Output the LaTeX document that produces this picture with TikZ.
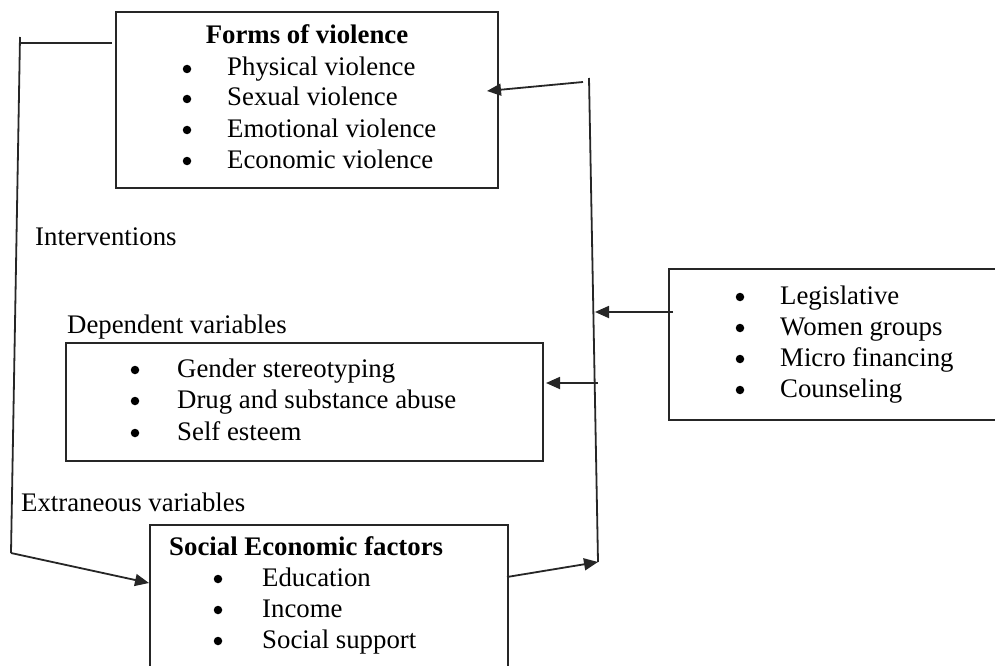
\documentclass[tikz,border=0pt]{standalone}
\usepackage{fontspec}
\setmainfont{Liberation Serif}
\usetikzlibrary{arrows.meta}
\begin{document}
\begin{tikzpicture}[x=1pt,y=-1pt,
  txt/.style={inner sep=0pt, anchor=base west, font=\fontsize{26.8}{30}\selectfont},
  ttl/.style={inner sep=0pt, anchor=base west, font=\fontsize{26.8}{30}\selectfont\bfseries},
  bul/.style={circle, fill=black, inner sep=0pt, minimum size=8.5pt, yshift=7pt},
  box/.style={draw=black!85, line width=2pt, inner sep=0pt, anchor=north west},
  conn/.style={draw=black!85, line width=1.8pt},
  arr/.style={conn, -{Triangle[length=14pt,width=12pt]}}]
\useasboundingbox (0,0) rectangle (995,666);
\clip (0,0) rectangle (995,666);

% boxes
\node[box, minimum width=382pt, minimum height=176pt] (forms) at (115,11) {};
\node[box, minimum width=477pt, minimum height=118pt] (dep) at (65,342) {};
\node[box, minimum width=358pt, minimum height=170pt] (socio) at (149,524) {};
\node[box, minimum width=345pt, minimum height=151pt] (interv) at (668,268) {};

% forms of violence
\node[ttl, anchor=base] (formsT) at (307,44) {Forms of violence};
\node[bul] (fb1) at (187,76) {};
\node[bul] (fb2) at (187,106) {};
\node[bul] (fb3) at (187,137) {};
\node[bul] (fb4) at (187,168) {};
\node[txt] (f1) at (227,76) {Physical violence};
\node[txt] (f2) at (227,106) {Sexual violence};
\node[txt] (f3) at (227,137) {Emotional violence};
\node[txt] (f4) at (227,168) {Economic violence};

% labels
\node[txt] (intL) at (35,245) {Interventions};
\node[txt] (depL) at (67,333) {Dependent variables};
\node[txt] (extL) at (21,511) {Extraneous variables};

% dependent variables
\node[bul] (db1) at (135,377) {};
\node[bul] (db2) at (135,408) {};
\node[bul] (db3) at (135,440) {};
\node[txt] (d1) at (177,377) {Gender stereotyping};
\node[txt] (d2) at (177,408) {Drug and substance abuse};
\node[txt] (d3) at (177,440) {Self esteem};

% social economic factors
\node[ttl] (socioT) at (169,555) {Social Economic factors};
\node[bul] (sb1) at (218,586) {};
\node[bul] (sb2) at (218,617) {};
\node[bul] (sb3) at (218,648) {};
\node[txt] (s1) at (262,586) {Education};
\node[txt] (s2) at (262,617) {Income};
\node[txt] (s3) at (262,648) {Social support};

% interventions box
\node[bul] (ib1) at (740,304) {};
\node[bul] (ib2) at (740,335) {};
\node[bul] (ib3) at (740,366) {};
\node[bul] (ib4) at (740,397) {};
\node[txt] (i1) at (780,304) {Legislative};
\node[txt] (i2) at (780,335) {Women groups};
\node[txt] (i3) at (780,366) {Micro financing};
\node[txt] (i4) at (780,397) {Counseling};

% connector coordinates
\coordinate (lstart) at (112,43);
\coordinate (lcorner) at (20,43);
\coordinate (ltop) at (20,37);
\coordinate (lbot) at (11,553);
\coordinate (sin) at (149,583);
\coordinate (rtop) at (589,78);
\coordinate (rbot) at (598,562);
\coordinate (ftail) at (583,82);
\coordinate (fhead) at (487,91);
\coordinate (itail) at (673,312);
\coordinate (ihead) at (595,312);
\coordinate (dtail) at (598,383);
\coordinate (dhead) at (546,383);
\coordinate (sout) at (507,577);

% connectors
\draw[conn] (lstart) -- (lcorner);
\draw[conn] (ltop) -- (lbot);
\draw[arr] (lbot) -- (sin);
\draw[conn] (rtop) -- (rbot);
\draw[arr] (ftail) -- (fhead);
\draw[arr] (itail) -- (ihead);
\draw[arr] (dtail) -- (dhead);
\draw[arr] (sout) -- (rbot);
\end{tikzpicture}
\end{document}
